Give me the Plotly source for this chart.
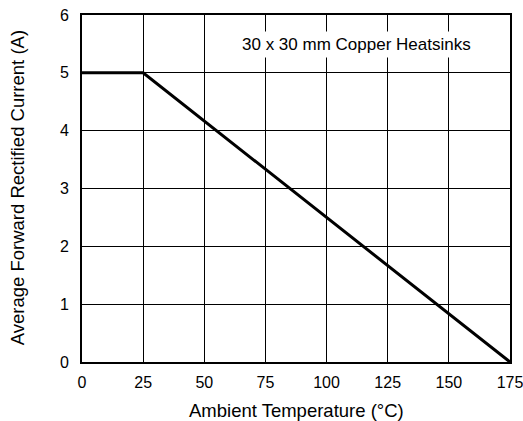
import plotly.graph_objects as go

temperature = [0, 25, 175]
current = [5, 5, 0]
x_ticks = [0, 25, 50, 75, 100, 125, 150, 175]
y_ticks = [0, 1, 2, 3, 4, 5, 6]
x_title = "Ambient Temperature (°C)"
y_title = "Average Forward Rectified Current (A)"
note = "30 x 30 mm Copper Heatsinks"

fig = go.Figure()
fig.add_trace(go.Scatter(x=temperature, y=current, mode="lines",
                         line=dict(color="black", width=3), showlegend=False,
                         cliponaxis=False, hoverinfo="skip"))

font = "Liberation Sans, Arial, sans-serif"
axis_common = dict(showgrid=True, gridcolor="black", gridwidth=1,
                   showline=True, linecolor="black", linewidth=2, mirror=True, ticks="",
                   zeroline=False, tickfont=dict(size=16), automargin=False,
                   ticklabeloverflow="allow")
fig.update_layout(
    width=523, height=421,
    margin=dict(l=82, r=13, t=15, b=59),
    plot_bgcolor="white", paper_bgcolor="white",
    font=dict(family=font, color="black", size=16),
    xaxis=dict(range=[0, 175], tickvals=x_ticks, ticklabelstandoff=5, **axis_common),
    yaxis=dict(range=[0, 6], tickvals=y_ticks, ticklabelstandoff=8, **axis_common),
    annotations=[
        dict(x=112.4, y=5.49, xref="x", yref="y", text=note,
             showarrow=False, bgcolor="white", font=dict(size=17), borderpad=3),
        dict(x=0.5, y=-0.141, xref="paper", yref="paper", text=x_title,
             showarrow=False, font=dict(size=18.5), xanchor="center", yanchor="middle"),
        dict(x=-0.150, y=0.503, xref="paper", yref="paper", text=y_title, textangle=-90,
             showarrow=False, font=dict(size=18.5), xanchor="center", yanchor="middle"),
    ],
)
fig.write_html(
    "out.html",
    config={"displayModeBar": False, "staticPlot": True},
    post_script="document.body.style.margin='0';document.body.style.overflow='hidden';",
)
